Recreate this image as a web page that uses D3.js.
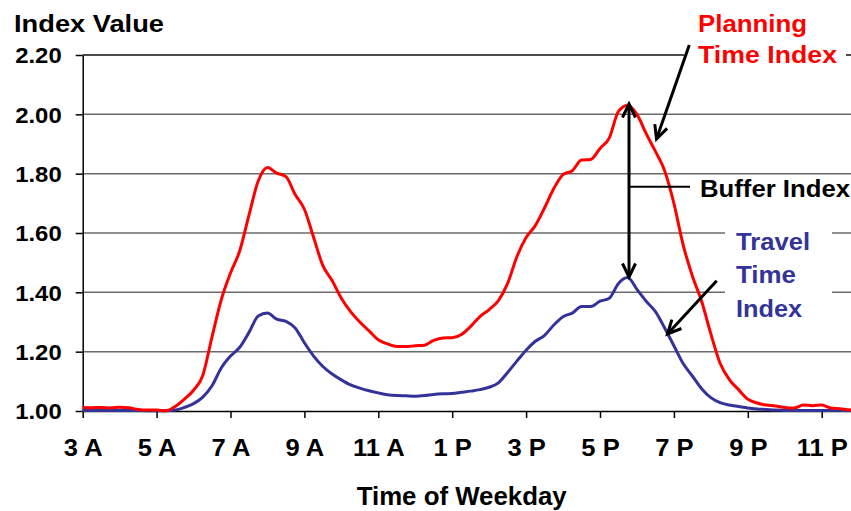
<!DOCTYPE html>
<html><head><meta charset="utf-8">
<script src="https://cdn.jsdelivr.net/npm/d3@7"></script>
<style>
html,body{margin:0;padding:0;background:#fff;}
svg{display:block;font-family:"Liberation Sans",Arial,Helvetica,sans-serif;font-weight:bold;}
</style></head>
<body>
<svg id="chart" width="851" height="511"></svg>
<script>
// ---- data (hours of the weekday; 24 = midnight) ----
const hours = [3,3.25,3.5,3.75,4,4.25,4.5,4.75,5,5.25,5.5,5.75,6,6.25,6.5,6.75,7,7.25,7.5,7.75,
  8,8.25,8.5,8.75,9,9.25,9.5,9.75,10,10.25,10.5,10.75,11,11.25,11.5,11.75,12,12.25,12.5,12.75,
  13,13.25,13.5,13.75,14,14.25,14.5,14.75,15,15.25,15.5,15.75,16,16.25,16.5,16.75,17,17.25,17.5,17.75,
  18,18.25,18.5,18.75,19,19.25,19.5,19.75,20,20.25,20.5,20.75,21,21.25,21.5,21.75,22,22.25,22.5,22.75,
  23,23.25,23.5,23.75,24];
const planningTimeIndex = [1.012,1.011,1.012,1.010,1.013,1.011,1.005,1.003,1.003,1.001,1.015,1.040,1.070,1.120,1.250,1.375,1.465,1.540,1.660,1.775,
  1.821,1.802,1.790,1.730,1.680,1.585,1.490,1.440,1.380,1.335,1.300,1.270,1.240,1.226,1.217,1.217,1.220,1.222,1.238,1.246,
  1.247,1.258,1.285,1.318,1.342,1.372,1.430,1.520,1.585,1.625,1.685,1.750,1.797,1.810,1.846,1.848,1.885,1.920,2.010,2.031,
  2.000,1.935,1.875,1.810,1.700,1.560,1.455,1.370,1.260,1.161,1.106,1.072,1.040,1.027,1.020,1.017,1.012,1.010,1.020,1.018,
  1.020,1.010,1.008,1.004,1.003];
const travelTimeIndex = [1.002,1.002,1.002,1.002,1.002,1.002,1.002,1.001,1.001,1.001,1.003,1.012,1.025,1.047,1.085,1.145,1.185,1.215,1.265,1.320,
  1.330,1.310,1.302,1.280,1.230,1.185,1.150,1.125,1.105,1.088,1.077,1.068,1.061,1.055,1.052,1.051,1.050,1.052,1.056,1.058,
  1.059,1.063,1.067,1.072,1.080,1.095,1.130,1.168,1.205,1.235,1.255,1.290,1.318,1.330,1.352,1.352,1.370,1.380,1.430,1.450,
  1.410,1.370,1.335,1.280,1.220,1.160,1.118,1.075,1.045,1.028,1.020,1.015,1.010,1.007,1.005,1.003,1.002,1.002,1.002,1.002,
  1.002,1.002,1.002,1.002,1.002];
const xTickValues = [3,5,7,9,11,13,15,17,19,21,23];
const xTickLabels = ["3 A","5 A","7 A","9 A","11 A","1 P","3 P","5 P","7 P","9 P","11 P"];
const yTickValues = [1.0,1.2,1.4,1.6,1.8,2.0,2.2];
const yTickLabels = ["1.00","1.20","1.40","1.60","1.80","2.00","2.20"];

// ---- layout ----
const svg = d3.select("#chart");
const x = d3.scaleLinear().domain([3,24]).range([82.7, 858.65]);
const y = d3.scaleLinear().domain([1,2.2]).range([411, 55]);
const stretch = 1.11;
function widen(sel){ sel.each(function(){ const w=this.getComputedTextLength(); d3.select(this).attr("textLength", w*stretch).attr("lengthAdjust","spacingAndGlyphs"); }); }
function fit(w){ return sel => sel.attr("textLength", w).attr("lengthAdjust","spacingAndGlyphs"); }

// gridlines
svg.append("g").selectAll("line").data(yTickValues.filter(v=>v>1))
  .join("line").attr("x1",82.7).attr("x2",851).attr("y1",d=>y(d)).attr("y2",d=>y(d))
  .attr("stroke",d=>d===2.2?"#111":"#6b6b6b").attr("stroke-width",1.5);

// white label backgrounds
svg.append("rect").attr("x",684).attr("y",4).attr("width",162).attr("height",68).attr("fill","#fff");
svg.append("rect").attr("x",725).attr("y",222).attr("width",107).attr("height",104).attr("fill","#fff");

// axes
const xAxis = svg.append("g").attr("transform","translate(0,411)")
  .call(d3.axisBottom(x).tickValues(xTickValues).tickFormat((d,i)=>xTickLabels[i]).tickSizeInner(7).tickSizeOuter(0).tickPadding(22));
xAxis.select(".domain").attr("stroke","#000").attr("stroke-width",1.5);
xAxis.selectAll(".tick line").attr("stroke","#000").attr("stroke-width",1.5);
xAxis.selectAll(".tick text").attr("font-size",23).attr("font-weight","bold").attr("fill","#000").attr("font-family","'Liberation Sans',Arial,sans-serif").call(widen);

const yAxis = svg.append("g").attr("transform","translate(82.7,0)")
  .call(d3.axisLeft(y).tickValues(yTickValues).tickFormat((d,i)=>yTickLabels[i]).tickSizeInner(7).tickSizeOuter(0).tickPadding(14));
yAxis.select(".domain").attr("stroke","#000").attr("stroke-width",1.5);
yAxis.selectAll(".tick line").attr("stroke","#000").attr("stroke-width",1.5);
yAxis.selectAll(".tick text").attr("font-size",22).attr("font-weight","bold").attr("fill","#000").attr("dy","0.36em").attr("font-family","'Liberation Sans',Arial,sans-serif").call(fit(46.5));

// series
const line = d3.line().x((d,i)=>x(hours[i])).y(d=>y(d)).curve(d3.curveMonotoneX);
svg.append("path").attr("d",line(travelTimeIndex)).attr("fill","none").attr("stroke","#333399").attr("stroke-width",3);
svg.append("path").attr("d",line(planningTimeIndex)).attr("fill","none").attr("stroke","#ff0000").attr("stroke-width",3);

// titles
svg.append("text").attr("x",14).attr("y",32).attr("font-size",23.5).text("Index Value").call(fit(150));
svg.append("text").attr("x",356.7).attr("y",505).attr("font-size",25).text("Time of Weekday").call(fit(210));

// annotations
const ann = svg.append("g");
ann.append("text").attr("x",698).attr("y",32).attr("font-size",23.5).attr("fill","#ff0000").text("Planning").call(fit(109));
ann.append("text").attr("x",698).attr("y",63).attr("font-size",23.5).attr("fill","#ff0000").text("Time Index").call(fit(139));
ann.append("text").attr("x",700).attr("y",197).attr("font-size",23).attr("fill","#000").text("Buffer Index").call(fit(150));
ann.append("text").attr("x",736).attr("y",250).attr("font-size",23.5).attr("fill","#333399").text("Travel").call(fit(74));
ann.append("text").attr("x",736).attr("y",283).attr("font-size",23.5).attr("fill","#333399").text("Time").call(fit(60));
ann.append("text").attr("x",736).attr("y",317).attr("font-size",23.5).attr("fill","#333399").text("Index").call(fit(66));

function arrow(x1,y1,x2,y2,heads){
  ann.append("line").attr("x1",x1).attr("y1",y1).attr("x2",x2).attr("y2",y2).attr("stroke","#000").attr("stroke-width",3);
  const drawHead=(tx,ty,fx,fy)=>{
    const a=Math.atan2(ty-fy,tx-fx), L=15, s=0.45;
    const p1=[tx-L*Math.cos(a-s), ty-L*Math.sin(a-s)], p2=[tx-L*Math.cos(a+s), ty-L*Math.sin(a+s)];
    ann.append("path").attr("d",`M${p1}L${tx},${ty}L${p2}`).attr("fill","none").attr("stroke","#000").attr("stroke-width",3).attr("stroke-linejoin","miter");
  };
  drawHead(x2,y2,x1,y1);
  if(heads===2) drawHead(x1,y1,x2,y2);
}
arrow(689.3,45,656.5,139);
arrow(716.7,280.7,667.5,334);
arrow(629,104,629,277,2);
ann.append("line").attr("x1",629).attr("x2",690).attr("y1",186.7).attr("y2",186.7).attr("stroke","#000").attr("stroke-width",2);
</script>
</body></html>
